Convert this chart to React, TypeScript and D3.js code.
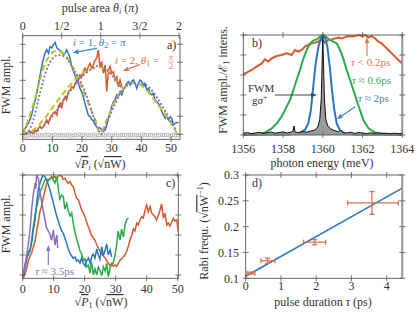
import React from 'react';
import * as d3 from 'd3';

type P = [number, number];

const FONT = '"Liberation Serif", "DejaVu Serif", serif';
const TXT = '#333';
const AX = '#555';
const BLUE = '#2a77c0';
const RED = '#d65a2c';
const GREEN = '#2cab4b';
const PURPLE = '#8a6cc6';
const YELLOW = '#c6c11c';

// panel a: FWM vs sqrt(P_i)
const aBottomTicks = [0, 10, 20, 30, 40, 50];
const aTopTicks = [0, 0.5, 1, 1.5, 2];
const aTopLabels = ['0', '1/2', '1', '3/2', '2'];
const levelTicks = [0, 1, 2, 3, 4, 5];
const aBlue: P[] = [[0,0.15],[0.8,0.33],[1.9,0.6],[3,1.07],[3.6,1.5],[4.5,2.1],[5.3,2.8],[6.1,3.5],[6.7,4.0],[7.5,4.5],[8.1,4.7],[8.7,4.5],[9.2,4.87],[9.8,4.8],[10.3,4.96],[10.9,5.1],[11.5,4.8],[12.2,4.7],[13.1,4.6],[13.7,4.4],[14.3,4.5],[14.8,4.7],[15.4,4.5],[16,4.2],[16.5,3.76],[17.1,3.5],[17.6,3.3],[18.2,3.0],[18.8,2.83],[19.3,2.55],[19.9,2.37],[20.4,2.1],[21,1.72],[21.6,1.35],[22.1,1.07],[22.7,0.98],[23.3,0.8],[23.8,0.76],[24.4,0.52],[24.9,0.43],[25.5,0.33],[26,0.37],[26.6,0.24],[27.2,0.33],[27.8,0.24],[28.3,0.52],[28.9,0.89],[29.4,1.17],[30,1.54],[30.6,1.81],[31.1,1.9],[31.7,2.19],[32.2,2.09],[32.8,2.37],[33.4,2.19],[33.9,2.46],[34.5,2.65],[35.1,2.83],[35.6,2.93],[36.2,2.74],[36.7,2.93],[37.3,3.02],[37.9,2.83],[38.4,2.55],[39,2.83],[39.6,3.02],[40.1,2.93],[40.7,2.65],[41.2,2.83],[41.8,2.46],[42.4,2.55],[42.9,2.28],[43.5,2.19],[44,2.28],[44.6,1.9],[45.2,1.81],[45.7,1.72],[46.3,1.54],[46.9,1.26],[47.4,1.07],[48,0.89],[48.5,0.98],[49.1,0.8],[49.7,0.98],[50.2,0.89],[50.8,0.52],[51.3,0.61],[51.9,0.65],[52.5,0.65]];
const aRed: P[] = [[0,0.06],[1.3,0.1],[2.5,0.15],[3.6,0.06],[4.2,0.24],[4.7,0.15],[5.3,0.33],[5.8,0.46],[6.4,0.33],[7,0.43],[7.5,0.61],[8.1,0.8],[8.7,0.61],[9.2,0.89],[9.8,1.07],[10.3,1.17],[10.9,1.26],[11.5,1.07],[12,1.54],[12.6,1.72],[13.1,1.44],[13.7,1.9],[14.3,2.09],[14.8,1.9],[15.4,2.37],[16,2.46],[16.5,2.65],[17.1,2.55],[17.6,2.83],[18.2,2.93],[18.8,3.11],[19.3,3.3],[19.9,3.2],[20.4,3.48],[21,3.67],[21.6,3.48],[22.1,3.76],[22.7,3.94],[23.3,3.67],[23.8,3.85],[24.4,4.13],[24.9,4.22],[25.5,4.69],[26,3.76],[26.6,4.04],[27.2,3.39],[27.8,3.85],[28.3,2.37],[28.9,3.57],[29.4,3.76],[30,3.39],[30.6,3.48],[31.1,3.02],[31.7,3.2],[32.2,2.65],[32.8,3.02],[33.4,2.65]];
const aDash1: P[] = [[0,0],[3,1.35],[5,2.5],[7,3.7],[9,4.35],[10.5,4.6],[12,4.62],[14,4.45],[16.5,3.85],[19.3,2.85],[22.7,1.5],[24.9,0.6],[26,0.05],[28.3,0.8],[31.1,1.85],[33.9,2.5],[37.3,2.85],[40.7,2.65],[43,2.2],[45.2,1.72],[48.5,0.98],[51.9,0.05]];
const aDot1: P[] = [[0,0],[1.3,0.05],[3.6,0.8],[5.8,2.28],[8.1,3.6],[10.3,4.25],[12,4.4],[14.3,4.3],[16.5,3.8],[19.3,3.0],[21.6,2.1],[23.8,1.0],[25.5,0.25],[26.6,0.0],[28.3,0.6],[30.6,1.5],[32.8,2.25],[36.2,2.8],[39.6,2.85],[42.9,2.55],[45.2,2.05],[48.5,1.15],[51.9,0.15]];
const aDash2: P[] = [[0,0],[3.6,0.24],[7,0.8],[10.3,1.54],[13.7,2.28],[17.1,2.95],[20.4,3.4],[23.8,3.7],[26,3.72],[28.5,3.55],[30.5,3.2],[32.5,2.75],[34,2.5]];
const aDot2: P[] = [[0,0],[5,0.2],[8,0.6],[11,1.2],[14,1.95],[17,2.6],[20,3.2],[23,3.6],[25.5,3.8],[27.5,3.7],[29.5,3.4],[31.5,2.95],[33.5,2.55]];
const aRefY = [0.02,-0.05,0.0,-0.03,0.03,-0.02,0.01,-0.04,0.02,0.0,-0.03,0.04,-0.01,0.02,-0.04,0.01,0.03,-0.02,0.0,0.02,-0.03,0.01,-0.01,0.03,-0.04,0.0,0.02,-0.02,0.04,-0.01,0.01,-0.03,0.02,0.0,-0.02,0.03,-0.04,0.01,0.0,-0.01,0.02,-0.03,0.04,0.0,-0.02,0.01,0.03,-0.01,-0.03,0.02,0.0,0.01,-0.04,0.03,-0.02,0.02,0.0,-0.01,0.01,-0.03,0.04,0.0,-0.02,0.02,0.01,-0.04,0.03,0.0,-0.01,0.02,-0.02,0.01,0.03,-0.03,0.0,0.02,-0.01,0.01];

// panel b: spectra
const bTicks = [1356, 1358, 1360, 1362, 1364];
const bRed: P[] = [[1356,3.05],[1356.17,3.12],[1356.42,3.25],[1356.67,3.42],[1356.92,3.58],[1357.09,3.78],[1357.26,3.67],[1357.43,3.83],[1357.68,3.95],[1357.93,4.0],[1358.18,4.08],[1358.43,4.0],[1358.6,4.25],[1358.77,4.17],[1358.94,4.25],[1359.1,4.42],[1359.27,4.5],[1359.44,4.58],[1359.6,4.62],[1359.78,4.67],[1359.94,4.78],[1360.1,4.62],[1360.28,4.75],[1360.45,4.78],[1360.6,4.83],[1360.78,4.87],[1360.95,4.83],[1361.1,4.88],[1361.28,4.95],[1361.45,4.92],[1361.62,4.95],[1361.8,5.0],[1361.96,4.95],[1362.12,5.0],[1362.3,4.88],[1362.46,4.95],[1362.63,4.83],[1362.8,4.67],[1362.96,4.58],[1363.13,4.42],[1363.3,4.25],[1363.47,4.08],[1363.63,3.92],[1363.8,3.75],[1364,3.58]];
const bGreen: P[] = [[1356,0.03],[1356.6,0.03],[1357.1,0.12],[1357.43,0.33],[1357.68,0.58],[1357.93,0.92],[1358.18,1.42],[1358.35,1.75],[1358.52,2.25],[1358.68,2.75],[1358.85,3.25],[1359.0,3.75],[1359.19,4.25],[1359.36,4.58],[1359.52,4.72],[1359.7,4.78],[1359.86,4.92],[1360.03,5.0],[1360.19,4.88],[1360.36,4.75],[1360.53,4.67],[1360.7,4.58],[1360.87,4.25],[1361.03,3.83],[1361.2,3.25],[1361.37,2.75],[1361.54,2.25],[1361.7,1.75],[1361.87,1.25],[1362.04,0.75],[1362.3,0.33],[1362.63,0.12],[1363.13,0.05],[1364,0.03]];
const bBlue: P[] = [[1356,0.02],[1358.26,0.02],[1358.77,0.08],[1359.1,0.25],[1359.27,0.58],[1359.4,1.25],[1359.52,2.42],[1359.64,3.58],[1359.78,4.42],[1359.9,4.83],[1360.0,5.0],[1360.11,4.88],[1360.23,4.42],[1360.35,3.42],[1360.46,2.25],[1360.58,1.25],[1360.7,0.58],[1360.87,0.22],[1361.1,0.08],[1361.62,0.02],[1364,0.02]];
const bBlack: P[] = [[1356,0.08],[1356.2,0.12],[1356.4,0.07],[1356.6,0.1],[1356.8,0.13],[1357,0.08],[1357.2,0.11],[1357.4,0.15],[1357.6,0.09],[1357.8,0.12],[1358,0.16],[1358.2,0.1],[1358.4,0.14],[1358.5,0.2],[1358.55,0.45],[1358.6,0.15],[1358.8,0.12],[1359,0.16],[1359.2,0.14],[1359.4,0.2],[1359.6,0.25],[1359.75,0.4],[1359.85,0.8],[1359.92,1.8],[1359.97,3.8],[1360.0,4.95],[1360.03,3.8],[1360.08,1.8],[1360.15,0.8],[1360.25,0.45],[1360.4,0.3],[1360.6,0.22],[1360.8,0.15],[1360.9,0.25],[1361,0.12],[1361.2,0.1],[1361.4,0.14],[1361.6,0.08],[1361.8,0.12],[1362,0.1],[1362.2,0.07],[1362.4,0.11],[1362.6,0.08],[1362.8,0.1],[1363,0.07],[1363.2,0.09],[1363.4,0.06],[1363.6,0.09],[1363.8,0.07],[1364,0.08]];

// panel c: FWM vs sqrt(P_1) for several pulse durations
const cRed: P[] = [[0.2,-0.15],[0.75,0.05],[1.3,0.35],[1.8,0.7],[2.4,0.95],[2.9,1.1],[3.4,1.4],[4.0,1.7],[4.5,2.2],[5.1,2.7],[5.6,3.2],[6.1,3.45],[6.7,3.9],[7.2,4.25],[7.7,4.55],[8.3,4.75],[8.8,4.8],[9.4,4.92],[9.9,4.85],[10.4,4.92],[11.0,4.83],[11.5,4.95],[12.0,5.0],[12.6,4.92],[13.1,4.78],[13.7,4.83],[14.2,4.67],[14.7,4.58],[15.3,4.67],[15.8,4.5],[16.3,4.42],[16.9,4.08],[17.4,3.83],[18.0,3.75],[18.5,3.5],[19.0,3.25],[19.6,3.1],[20.1,2.9],[20.6,2.65],[21.2,2.4],[21.7,2.2],[22.3,1.95],[22.8,1.85],[23.3,1.75],[23.9,1.5],[24.4,1.35],[24.9,1.2],[25.5,1.05],[26.0,0.95],[26.6,0.85],[27.1,0.7],[27.6,0.6],[28.2,0.45],[28.7,0.55],[29.2,0.45],[29.8,0.5],[30.3,0.42],[30.9,0.6],[31.4,0.75],[31.9,0.8],[32.5,0.92],[33.0,1.0],[33.5,1.17],[34.1,1.45],[34.6,1.75],[35.2,2.0],[35.7,2.3],[36.2,2.2],[36.8,2.6],[37.3,2.5],[37.8,2.75],[38.4,2.92],[38.9,2.85],[39.5,3.25],[40.0,3.5],[40.5,3.17],[41.1,3.42],[41.6,3.1],[42.2,3.0],[42.7,2.9],[43.2,2.75],[43.8,3.0],[44.3,3.25],[44.8,3.55],[45.4,2.83],[45.9,3.1],[46.5,2.5],[47.0,2.6],[47.5,2.45],[48.1,2.65],[48.6,2.83],[49.1,2.7],[49.7,2.75],[50.2,2.17]];
const cGreen: P[] = [[0.2,-0.08],[0.75,0.5],[1.3,0.85],[1.8,1.0],[2.4,1.2],[2.9,1.8],[3.4,2.4],[4.0,3.0],[4.5,3.4],[5.1,3.8],[5.6,4.2],[6.1,4.3],[6.7,4.58],[7.2,4.75],[7.7,4.8],[8.3,4.75],[8.8,4.83],[9.4,4.85],[9.9,4.75],[10.4,4.6],[11.0,4.92],[11.5,4.3],[12.0,3.8],[12.6,4.0],[13.1,3.92],[13.6,3.3],[14.2,3.58],[14.7,3.2],[15.3,2.95],[15.8,3.1],[16.3,2.6],[16.9,2.1],[17.4,1.8],[17.9,1.55],[18.5,1.2],[19.0,1.05],[19.6,0.75],[20.1,0.8],[20.6,0.4],[21.2,0.5],[21.7,0.1],[22.2,0.65],[22.8,0.0],[23.3,0.3],[23.9,0.0],[24.4,0.4],[24.9,0.25],[25.5,-0.05],[26.0,0.42],[26.6,0.2],[27.1,0.58],[27.6,-0.08],[28.2,0.35],[28.7,0.6],[29.2,0.6],[29.8,1.0],[30.3,1.5],[30.8,2.2],[31.4,1.75],[31.9,2.3],[32.5,1.9],[33.0,2.5],[33.5,2.75],[34.1,2.85]];
const cBlue: P[] = [[0.2,-0.08],[0.75,0.4],[1.3,0.8],[1.8,1.1],[2.4,1.3],[2.9,1.6],[3.4,2.2],[4.0,2.8],[4.5,3.6],[5.0,4.25],[5.6,4.6],[6.1,4.83],[6.6,5.0],[7.2,4.9],[7.7,4.75],[8.3,4.5],[8.8,4.25],[9.4,3.9],[9.9,3.58],[10.4,3.3],[11.0,2.92],[11.5,2.7],[12.0,2.42],[12.6,2.2],[13.1,2.08],[13.7,1.8],[14.2,1.58],[14.7,1.3],[15.3,1.08],[15.8,0.95],[16.3,0.83],[16.9,0.9],[17.4,0.7],[17.9,0.75],[18.5,0.6],[19.0,0.85],[19.5,0.6],[20.1,0.45],[20.6,0.7],[21.2,0.85],[21.8,0.6],[22.3,0.95],[22.8,1.05],[23.3,0.85],[23.9,1.3],[24.4,1.0],[24.9,0.8],[25.5,1.42],[26.0,0.95],[26.6,1.25],[27.1,1.55],[27.6,1.0],[28.2,1.25],[28.7,0.9]];
const cPurple: P[] = [[0.2,0.0],[0.75,0.5],[1.3,1.0],[1.8,1.5],[2.4,2.3],[2.9,3.3],[3.4,4.0],[4.0,4.6],[4.2,4.3],[4.5,5.0],[5.1,4.8],[5.6,4.1],[6.1,3.7],[6.6,3.25],[7.2,2.75],[7.7,2.35],[8.3,2.2],[8.8,2.05],[9.3,1.75],[9.9,2.25],[10.4,1.5],[11.0,2.0],[11.3,1.35]];

// panel d: Rabi frequency vs pulse duration
const dXTicks = [0, 1, 2, 3, 4];
const dYTicks = [0.1, 0.15, 0.2, 0.25, 0.3];
const dTau = [0.14, 0.62, 1.96, 3.58];
const dTauLo = [0.04, 0.43, 1.64, 2.89];
const dTauHi = [0.26, 0.83, 2.27, 4.33];
const dRabi = [0.11, 0.134, 0.17, 0.246];
const dRabiLo = [0.108, 0.129, 0.165, 0.224];
const dRabiHi = [0.112, 0.139, 0.175, 0.268];
const dFit: P[] = [[0, 0.104], [4.43, 0.274]];

type Box = { l: number; r: number; t: number; b: number };

const tick = (key: string, x1: number, y1: number, x2: number, y2: number) => (
  <line key={key} x1={x1} y1={y1} x2={x2} y2={y2} stroke={AX} strokeWidth={0.8} />
);

function yTickMarks(id: string, vals: number[], scale: d3.ScaleLinear<number, number>, box: Box) {
  return vals.flatMap(v => {
    const y = scale(v);
    return [tick(`${id}l${v}`, box.l - 3, y, box.l + 3, y), tick(`${id}r${v}`, box.r - 3, y, box.r + 3, y)];
  });
}

function xTickMarks(id: string, vals: number[], scale: d3.ScaleLinear<number, number>, y: number) {
  return vals.map(v => tick(`${id}${v}`, scale(v), y - 3, scale(v), y + 3));
}

function Arrow({ x1, y1, x2, y2, color }: { x1: number; y1: number; x2: number; y2: number; color: string }) {
  const a = Math.atan2(y2 - y1, x2 - x1);
  const L = 6, w = 2.3;
  const bx = x2 - L * Math.cos(a), by = y2 - L * Math.sin(a);
  const px = -Math.sin(a) * w, py = Math.cos(a) * w;
  return (
    <g>
      <line x1={x1} y1={y1} x2={bx} y2={by} stroke={color} strokeWidth={1.2} />
      <polygon points={`${x2},${y2} ${bx + px},${by + py} ${bx - px},${by - py}`} fill={color} />
    </g>
  );
}

const T = (p: any) => <text fontFamily={FONT} fill={TXT} fontSize={12} {...p} />;

// rotated axis title, centred on (x, y)
const VLabel = ({ x, y, children }: { x: number; y: number; children: React.ReactNode }) => (
  <g transform={`translate(${x},${y}) rotate(-90)`}>
    <T x={0} y={0} textAnchor="middle" dy="0.35em">{children}</T>
  </g>
);

export default function App() {
  const boxA: Box = { l: 22.7, r: 180, t: 35.7, b: 139.3 };
  const boxB: Box = { l: 243.3, r: 402.3, t: 35, b: 135 };
  const boxC: Box = { l: 22.7, r: 178.3, t: 175, b: 278.3 };
  const boxD: Box = { l: 245.7, r: 402.3, t: 175, b: 278.3 };

  const xA = d3.scaleLinear().domain([0, 53]).range([boxA.l, boxA.r]);
  const xAtop = d3.scaleLinear().domain([0, 2]).range([22.7, 179]);
  const yA = d3.scaleLinear().domain([0, 5]).range([134.3, 44.3]);
  const xB = d3.scaleLinear().domain([1356, 1364]).range([boxB.l, boxB.r]);
  const yB = d3.scaleLinear().domain([0, 5]).range([boxB.b, boxB.t]);
  const xC = d3.scaleLinear().domain([0, 50]).range([22.7, 177.7]);
  const yC = d3.scaleLinear().domain([0, 5]).range([275, 175]);
  const xD = d3.scaleLinear().domain([0, 4]).range([245.7, 386.7]);
  const yD = d3.scaleLinear().domain([0.1, 0.3]).range([278.3, 175]);

  const ln = (xs: d3.ScaleLinear<number, number>, ys: d3.ScaleLinear<number, number>, curve: d3.CurveFactory = d3.curveLinear) =>
    d3.line<P>().x(d => xs(d[0])).y(d => ys(d[1])).curve(curve);
  const lineA = ln(xA, yA);
  const fitA = ln(xA, yA, d3.curveMonotoneX);
  const lineB = ln(xB, yB);
  const lineC = ln(xC, yC);
  const lineD = ln(xD, yD);
  const areaB = d3.area<P>().x(d => xB(d[0])).y0(yB(0)).y1(d => yB(d[1]));

  const aRefX = aRefY.map((_, i) => 0.3 + i * 0.675);

  const frame = (b: Box, k: string) => (
    <rect key={k} x={b.l} y={b.t} width={b.r - b.l} height={b.b - b.t} fill="none" stroke={AX} strokeWidth={0.9} />
  );

  return (
    <svg width={415} height={314} style={{ position: 'absolute', left: 0, top: 0, background: '#fff' }}>
      <defs>
        <clipPath id="clipA"><rect x={boxA.l} y={boxA.t} width={boxA.r - boxA.l} height={boxA.b - boxA.t} /></clipPath>
        <clipPath id="clipC"><rect x={boxC.l} y={boxC.t} width={boxC.r - boxC.l} height={boxC.b - boxC.t} /></clipPath>
      </defs>

      {/* ---------- panel a ---------- */}
      <g clipPath="url(#clipA)">
        {aRefY.map((v, i) => (
          <circle key={i} cx={xA(aRefX[i])} cy={yA(v - 0.05)} r={1.6} fill="#fff" stroke="#999" strokeWidth={0.7} />
        ))}
        <path d={lineA(aRed) ?? ''} fill="none" stroke={RED} strokeWidth={1.5} />
        <path d={lineA(aBlue) ?? ''} fill="none" stroke={BLUE} strokeWidth={1.5} />
        <path d={fitA(aDash1) ?? ''} fill="none" stroke={YELLOW} strokeWidth={2} strokeDasharray="6,3.5" />
        <path d={fitA(aDash2) ?? ''} fill="none" stroke={YELLOW} strokeWidth={2} strokeDasharray="6,3.5" />
        <path d={fitA(aDot1) ?? ''} fill="none" stroke={PURPLE} strokeWidth={2.2} strokeDasharray="0,4" strokeLinecap="round" />
        <path d={fitA(aDot2) ?? ''} fill="none" stroke={PURPLE} strokeWidth={2.2} strokeDasharray="0,4" strokeLinecap="round" />
      </g>
      {frame(boxA, 'fa')}
      {yTickMarks('ay', levelTicks, yA, boxA)}
      {xTickMarks('ab', aBottomTicks, xA, boxA.b)}
      {xTickMarks('at', aTopTicks, xAtop, boxA.t)}
      {aBottomTicks.map(v => <T key={'abl' + v} x={xA(v)} y={152} textAnchor="middle">{v}</T>)}
      {aTopTicks.map((v, i) => <T key={'atl' + v} x={xAtop(v)} y={30} textAnchor="middle">{aTopLabels[i]}</T>)}
      <T x={100} y={12} textAnchor="middle">pulse area <tspan fontStyle="italic">θ</tspan><tspan fontStyle="italic" fontSize={8} dy={2}>i</tspan><tspan dy={-2}> (</tspan><tspan fontStyle="italic">π</tspan>)</T>
      <T x={100} y={168} textAnchor="middle">√<tspan fontStyle="italic" textDecoration="overline">P</tspan><tspan fontSize={8} dy={2} fontStyle="italic">i</tspan><tspan dy={-2}> (√</tspan><tspan textDecoration="overline">nW</tspan>)</T>
      <VLabel x={6} y={85}>FWM ampl.</VLabel>
      <T x={167} y={49}>a)</T>
      <T x={73} y={46} fontSize={11} fill="#3a85cc"><tspan fontStyle="italic">i</tspan> = 1, <tspan fontStyle="italic">θ</tspan><tspan fontSize={8} dy={2}>2</tspan><tspan dy={-2}> = </tspan><tspan fontStyle="italic">π</tspan></T>
      <T x={115} y={64} fontSize={11} fill="#df7550"><tspan fontStyle="italic">i</tspan> = 2, <tspan fontStyle="italic">θ</tspan><tspan fontSize={8} dy={2}>1</tspan><tspan dy={-2}> = </tspan></T>
      <T x={171} y={60} fontSize={8} fill="#df7550" textAnchor="middle" fontStyle="italic">π</T>
      <line x1={168} x2={174} y1={62} y2={62} stroke="#df7550" strokeWidth={0.6} />
      <T x={171} y={69} fontSize={8} fill="#df7550" textAnchor="middle">2</T>
      <Arrow x1={97} y1={48.3} x2={72.7} y2={52.7} color="#3a85cc" />
      <Arrow x1={140} y1={64.5} x2={122.7} y2={71} color="#df7550" />

      {/* ---------- panel b ---------- */}
      <path d={lineB(bRed) ?? ''} fill="none" stroke={RED} strokeWidth={2} />
      <path d={lineB(bGreen) ?? ''} fill="none" stroke={GREEN} strokeWidth={2} />
      <path d={lineB(bBlue) ?? ''} fill="none" stroke={BLUE} strokeWidth={2} />
      <path d={areaB(bBlack) ?? ''} fill="#9a9a9a" />
      <path d={lineB(bBlack) ?? ''} fill="none" stroke="#111" strokeWidth={1} />
      {frame(boxB, 'fb')}
      <line x1={boxB.r} x2={boxB.r} y1={boxB.t} y2={boxB.b} stroke="#999" strokeWidth={2} />
      {yTickMarks('by', levelTicks, yB, boxB)}
      {xTickMarks('bb', bTicks, xB, boxB.b)}
      {xTickMarks('bt', bTicks, xB, boxB.t)}
      {bTicks.map(v => <T key={'bbl' + v} x={xB(v)} y={153} textAnchor="middle">{v}</T>)}
      <T x={322} y={167} textAnchor="middle">photon energy (meV)</T>
      <VLabel x={223} y={80}>FWM ampl./ℰ<tspan fontSize={8} dy={2}>1</tspan><tspan dy={-2}> intens.</tspan></VLabel>
      <T x={252} y={47}>b)</T>
      <T x={351} y={66} fontSize={11} fill="#df7550"><tspan fontStyle="italic">τ</tspan> &lt; 0.2ps</T>
      <T x={352} y={84} fontSize={11} fill="#35b257"><tspan fontStyle="italic">τ</tspan> ≈ 0.6ps</T>
      <T x={358} y={102} fontSize={11} fill="#3a85cc"><tspan fontStyle="italic">τ</tspan> ≈ 2ps</T>
      <T x={248} y={92} fontSize={11}>FWM</T>
      <T x={252} y={104} fontSize={11}>g<tspan fontStyle="italic">σ</tspan><tspan fontSize={8} dy={-4}>+</tspan></T>
      <Arrow x1={367} y1={56} x2={367} y2={37} color="#df7550" />
      <Arrow x1={275} y1={95} x2={317} y2={95} color="#444" />
      <Arrow x1={355} y1={106.7} x2={336.7} y2={119.3} color="#3a85cc" />

      {/* ---------- panel c ---------- */}
      <g clipPath="url(#clipC)">
        <path d={lineC(cRed) ?? ''} fill="none" stroke={RED} strokeWidth={1.5} />
        <path d={lineC(cGreen) ?? ''} fill="none" stroke={GREEN} strokeWidth={1.5} />
        <path d={lineC(cBlue) ?? ''} fill="none" stroke={BLUE} strokeWidth={1.5} />
        <path d={lineC(cPurple) ?? ''} fill="none" stroke={PURPLE} strokeWidth={1.5} />
      </g>
      {frame(boxC, 'fc')}
      {yTickMarks('cy', levelTicks, yC, boxC)}
      {xTickMarks('cb', aBottomTicks, xC, boxC.b)}
      {xTickMarks('ct', aBottomTicks, xC, boxC.t)}
      {aBottomTicks.map(v => <T key={'cbl' + v} x={xC(v)} y={293} textAnchor="middle">{v}</T>)}
      <T x={101} y={306} textAnchor="middle">√<tspan fontStyle="italic" textDecoration="overline">P</tspan><tspan fontSize={8} dy={2}>1</tspan><tspan dy={-2}> (√</tspan><tspan textDecoration="overline">nW</tspan>)</T>
      <VLabel x={6} y={224}>FWM ampl.</VLabel>
      <T x={166} y={187}>c)</T>
      <T x={35} y={275} fontSize={11} fill="#8c74c6"><tspan fontStyle="italic">τ</tspan> ≈ 3.5ps</T>
      <Arrow x1={48.3} y1={265} x2={48.3} y2={245} color="#8c74c6" />

      {/* ---------- panel d ---------- */}
      <path d={lineD(dFit) ?? ''} fill="none" stroke={BLUE} strokeWidth={1.5} />
      {dTau.map((t, i) => (
        <g key={'pt' + i} stroke="#dd7250" strokeWidth={1.3}>
          <line x1={xD(dTauLo[i])} x2={xD(dTauHi[i])} y1={yD(dRabi[i])} y2={yD(dRabi[i])} />
          <line x1={xD(dTauLo[i])} x2={xD(dTauLo[i])} y1={yD(dRabi[i]) - 2.5} y2={yD(dRabi[i]) + 2.5} />
          <line x1={xD(dTauHi[i])} x2={xD(dTauHi[i])} y1={yD(dRabi[i]) - 2.5} y2={yD(dRabi[i]) + 2.5} />
          <line x1={xD(t)} x2={xD(t)} y1={yD(dRabiLo[i])} y2={yD(dRabiHi[i])} />
          <line x1={xD(t) - 2.5} x2={xD(t) + 2.5} y1={yD(dRabiLo[i])} y2={yD(dRabiLo[i])} />
          <line x1={xD(t) - 2.5} x2={xD(t) + 2.5} y1={yD(dRabiHi[i])} y2={yD(dRabiHi[i])} />
        </g>
      ))}
      {frame(boxD, 'fd')}
      <line x1={boxD.r} x2={boxD.r} y1={boxD.t} y2={boxD.b} stroke="#999" strokeWidth={2} />
      {yTickMarks('dy', dYTicks, yD, boxD)}
      {xTickMarks('db', dXTicks, xD, boxD.b)}
      {xTickMarks('dt', dXTicks, xD, boxD.t)}
      {dXTicks.map(v => <T key={'dbl' + v} x={xD(v)} y={290} textAnchor="middle">{v}</T>)}
      {dYTicks.map(v => <T key={'dyl' + v} x={239} y={yD(v)} dy="0.35em" textAnchor="end">{v}</T>)}
      <T x={323} y={306} textAnchor="middle">pulse duration <tspan fontStyle="italic">τ</tspan> (ps)</T>
      <VLabel x={204} y={231}>Rabi frequ. (√<tspan textDecoration="overline">nW</tspan><tspan fontSize={8} dy={-5}>−1</tspan><tspan dy={5}>)</tspan></VLabel>
      <T x={252} y={187}>d)</T>
    </svg>
  );
}
